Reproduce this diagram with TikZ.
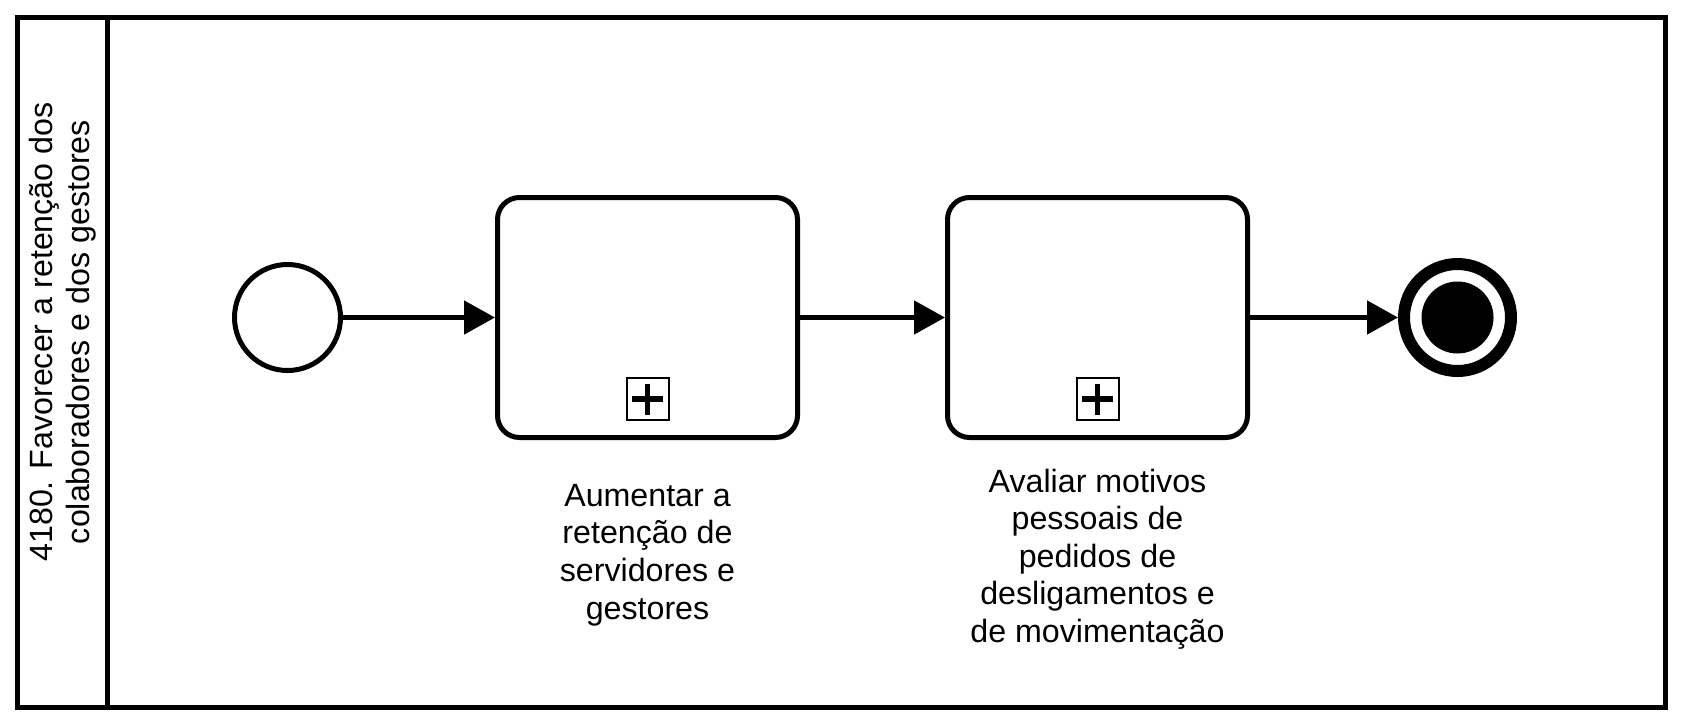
\documentclass[tikz,border=0pt]{standalone}
\usepackage{fontspec}
\setmainfont{Liberation Sans}
\usetikzlibrary{arrows.meta}
\newlength{\du}
\setlength{\du}{15\unitlength}
\definecolor{dialinecolor}{rgb}{0.000000, 0.000000, 0.000000}
\tikzset{
  bpmnline/.style={draw=dialinecolor, line width=0.237100\du},
  startevent/.style={bpmnline, circle, inner sep=0pt, minimum size=5.026600\du},
  endevent/.style={draw=dialinecolor, line width=0.569050\du, circle, inner sep=0pt, minimum size=5.073940\du},
  subprocess/.style={bpmnline, rectangle, rounded corners=1.043300\du, inner sep=0pt,
    minimum width=14.226200\du, minimum height=11.380900\du},
  marker/.style={draw=dialinecolor, line width=0.094840\du, rectangle, inner sep=0pt, minimum size=1.991700\du},
  markbar/.style={draw=dialinecolor, line width=0.260800\du, line cap=butt},
  lbl/.style={align=center, inner sep=0pt, font=\fontsize{22.9}{26.7}\selectfont},
  flow/.style={bpmnline, -{Triangle[length=22.05pt, width=23.48pt]}},
}
\begin{document}
\begin{tikzpicture}
\pgftransformxscale{1.000000}
\pgftransformyscale{-1.000000}
\useasboundingbox (0.000000\du,0.000000\du) rectangle (79.951000\du,34.427000\du);
% pool and lane header
\draw[bpmnline] (0.829860\du,0.829860\du) rectangle (78.955300\du,33.526400\du);
\draw[bpmnline] (5.097700\du,0.829860\du)--(5.097700\du,33.526400\du);
\node[lbl, rotate=90] (pool) at (2.963800\du,15.743600\du){4180. Favorecer a retenção dos\\colaboradores e dos gestores};
% events and sub-processes
\node[startevent] (start) at (13.633400\du,15.056000\du){};
\node[subprocess] (aumentar) at (30.704800\du,15.056000\du){};
\node[subprocess] (avaliar) at (52.044100\du,15.056000\du){};
\node[endevent] (end) at (69.115500\du,15.056000\du){};
\fill[dialinecolor] (end.center) circle (1.707100\du);
% collapsed markers
\node[marker] (maumentar) at (30.704800\du,18.920800\du){};
\draw[markbar] (29.969800\du,18.920800\du)--(31.439800\du,18.920800\du);
\draw[markbar] (30.704800\du,18.185800\du)--(30.704800\du,19.655800\du);
\node[marker] (mavaliar) at (52.044100\du,18.920800\du){};
\draw[markbar] (51.309100\du,18.920800\du)--(52.779100\du,18.920800\du);
\draw[markbar] (52.044100\du,18.185800\du)--(52.044100\du,19.655800\du);
% labels
\node[lbl, anchor=north] (laumentar) at (30.704800\du,22.951600\du){Aumentar a\\retenção de\\servidores e\\gestores};
\node[lbl, anchor=north] (lavaliar) at (52.044100\du,22.216600\du){Avaliar motivos\\pessoais de\\pedidos de\\desligamentos e\\de movimentação};
% sequence flows
\draw[flow] (start)--(aumentar);
\draw[flow] (aumentar)--(avaliar);
\draw[flow] (avaliar)--(end);
\end{tikzpicture}
\end{document}
